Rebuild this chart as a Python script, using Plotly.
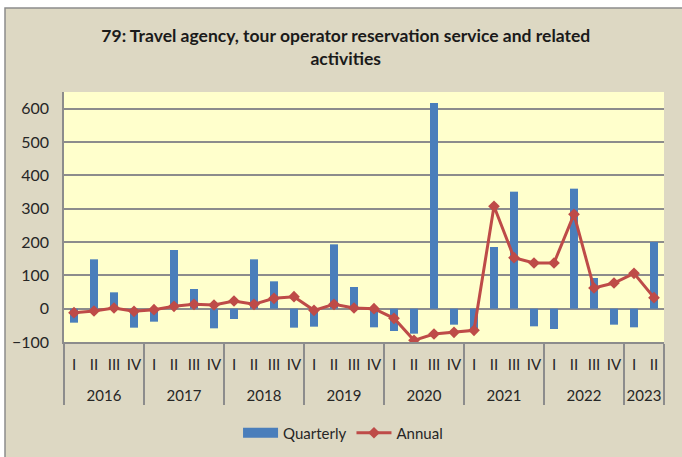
import plotly.graph_objects as go

years = ["2016"] * 4 + ["2017"] * 4 + ["2018"] * 4 + ["2019"] * 4 + ["2020"] * 4 + ["2021"] * 4 + ["2022"] * 4 + ["2023"] * 2
quarters = ["I", "II", "III", "IV"] * 7 + ["I", "II"]

quarterly = [-42, 148, 49, -57,
             -39, 176, 59, -59,
             -31, 148, 82, -57,
             -54, 193, 65, -56,
             -67, -75, 617, -48,
             -63, 185, 351, -53,
             -61, 360, 92, -48,
             -56, 200]

annual = [-12, -7, 2, -8,
          -3, 7, 13, 11,
          23, 13, 31, 36,
          -5, 13, 2, 0,
          -29, -95, -76, -71,
          -65, 307, 153, 137,
          137, 283, 62, 77,
          106, 33]

title_text = "79: Travel agency, tour operator reservation service and related<br>activities"

# year labels pushed one line lower so they sit well below the quarter labels
year_labels = ["<br>" + y for y in years]
x_cat = [year_labels, quarters]

FONT = "Lato"
BLUE = "#4A7EBB"
RED = "#BE4B48"
fig = go.Figure()
fig.add_trace(go.Bar(x=x_cat, y=quarterly, name="Quarterly",
                     showlegend=False, legendgroup="q",
                     marker=dict(color=BLUE, line=dict(width=0))))
# legend swatch for the bars (wide bar-like key, as in the original)
fig.add_trace(go.Scatter(x=[[year_labels[0]], [quarters[0]]], y=[None], name="Quarterly",
                         legendgroup="q", mode="lines",
                         line=dict(color=BLUE, width=10)))
fig.add_trace(go.Scatter(x=x_cat, y=annual, name="Annual",
                         mode="lines+markers",
                         line=dict(color=RED, width=3),
                         marker=dict(symbol="diamond", size=9, color=RED)))

W, H = 682, 457
L, R, T, B = 64, 664, 92, 342
pw, ph = R - L, B - T

def px(x):
    return (x - L) / pw

def py(y):
    return (B - y) / ph

fig.update_layout(
    width=W, height=H,
    margin=dict(l=L, r=W - R, t=T, b=H - B, autoexpand=False),
    paper_bgcolor="white",
    plot_bgcolor="rgba(0,0,0,0)",
    bargap=0.6,
    showlegend=True,
    font=dict(family=FONT, color="#262626"),
    title=dict(text=title_text, x=0.507, xref="container", xanchor="center",
               y=1 - 42 / H, yref="container", yanchor="middle",
               font=dict(family=FONT, size=17.5, color="#1a1a1a", weight="bold")),
    legend=dict(orientation="h", x=0.503, xanchor="center", xref="container",
                y=1 - 433 / H, yref="container", yanchor="middle",
                font=dict(family=FONT, size=15, color="#262626"),
                bgcolor="rgba(0,0,0,0)", itemwidth=35, tracegroupgap=0),
    shapes=[
        dict(type="rect", xref="paper", yref="paper", layer="below",
             x0=px(5), x1=px(700), y0=py(480), y1=py(8),
             fillcolor="#DDD8C3", line=dict(color="#8C8C8C", width=1.5)),
        dict(type="rect", xref="paper", yref="paper", layer="below",
             x0=0, x1=1, y0=0, y1=1,
             fillcolor="#FFFFCC", line=dict(width=0)),
    ],
)

fig.update_yaxes(range=[-100, 650], tick0=-100, dtick=100, automargin=False,
                 showgrid=True, gridcolor="#8C8C8C", gridwidth=1.5,
                 zeroline=False, showline=True, linecolor="#8C8C8C", linewidth=1.5,
                 ticks="", ticklabelstandoff=10,
                 tickfont=dict(family=FONT, size=16, color="#262626"))
fig.update_xaxes(range=[-0.5, len(quarters) - 0.5],
                 showgrid=False, showline=True, linecolor="#8C8C8C", linewidth=1.5,
                 automargin=False, tickangle=0, ticklabelstandoff=8,
                 showdividers=True, dividercolor="#8C8C8C", dividerwidth=1.5,
                 ticks="", tickfont=dict(family=FONT, size=15, color="#262626"))

fig.write_html("out.html", config={"displayModeBar": False},
               post_script="document.body.style.margin='0';document.body.style.padding='0';")
